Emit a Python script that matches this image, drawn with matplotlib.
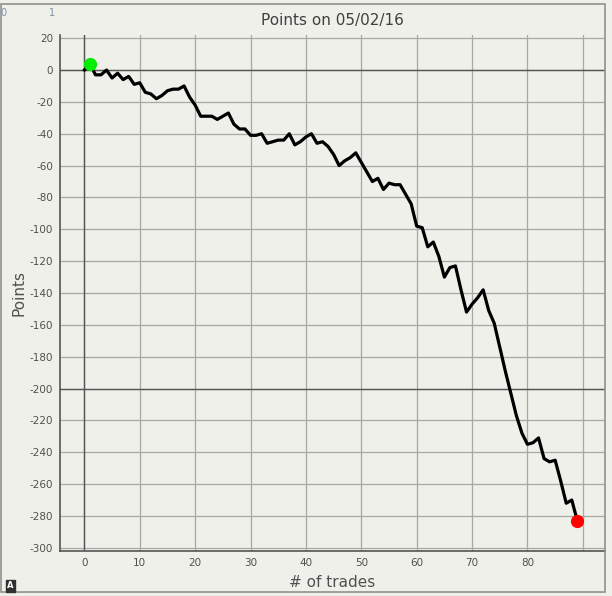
import matplotlib
matplotlib.use("Agg")
import matplotlib.pyplot as plt
from matplotlib.patches import Rectangle

plt.rcParams['axes.unicode_minus'] = False

# cumulative points per trade
trades = list(range(90))
points = [0, 4, -3, -3, 0, -5, -2, -6, -4, -9,
          -8, -14, -15, -18, -16, -13, -12, -12, -10, -17,
          -22, -29, -29, -29, -31, -29, -27, -34, -37, -37,
          -41, -41, -40, -46, -45, -44, -44, -40, -47, -45,
          -42, -40, -46, -45, -48, -53, -60, -57, -55, -52,
          -58, -64, -70, -68, -75, -71, -72, -72, -78, -84,
          -98, -99, -111, -108, -117, -130, -124, -123, -138, -152,
          -147, -143, -138, -151, -159, -174, -189, -203, -217, -228,
          -235, -234, -231, -244, -246, -245, -258, -272, -270, -283]
xticks = [0, 10, 20, 30, 40, 50, 60, 70, 80]
yticks = list(range(-300, 21, 20))

bg = '#f0f0ea'
txt = '#505050'

fig = plt.figure(figsize=(6.12, 5.96), dpi=100, facecolor=bg)
ax = fig.add_axes([60/612, 1-551/596, 545/612, 516/596])
ax.set_facecolor(bg)

ax.set_xlim(-4.4, 94)
ax.set_ylim(-302, 22)
ax.set_xticks(list(range(0, 100, 10)))
ax.set_xticklabels([str(t) for t in xticks] + [''])
ax.set_yticks(yticks)
ax.tick_params(length=0, labelsize=7.5, labelcolor=txt, pad=5)
ax.grid(True, color='#a8a8a4', linewidth=0.9)
ax.set_axisbelow(True)
for s in ['top', 'right']:
    ax.spines[s].set_visible(False)
for s in ['left', 'bottom']:
    ax.spines[s].set_color('#555555')
    ax.spines[s].set_linewidth(1.2)

# darker reference lines
ax.axhline(0, color='#555555', linewidth=1.0, zorder=1)
ax.axhline(-200, color='#555555', linewidth=1.0, zorder=1)
ax.axvline(0, color='#555555', linewidth=1.0, zorder=1)

ax.plot(trades, points, '-', color='black', linewidth=2.3, zorder=3)
ax.plot(trades[1], points[1], 'o', color='#00ee00', markersize=8.5, zorder=4)
ax.plot(trades[-1], points[-1], 'o', color='#ff0000', markersize=8.5, zorder=4)

ax.set_title("Points on 05/02/16", fontsize=11, color='#404040', pad=7)
ax.set_xlabel("# of trades", fontsize=11, color='#505050', labelpad=5)
ax.set_ylabel("Points", fontsize=11, color='#505050', labelpad=2)

# window frame and small ui bits
fig.patches.append(Rectangle((1/612, 4/596), 604/612, 588/596, transform=fig.transFigure,
                             fill=False, edgecolor='#909090', linewidth=1.2))
fig.text(3/612, 1-13/596, "0", fontsize=7, color='#8090a8', va='center', ha='center')
fig.text(52/612, 1-13/596, "1", fontsize=7, color='#8090a8', va='center', ha='center')
fig.text(10/612, 1-586/596, "A", fontsize=6, color='white', weight='bold', va='center', ha='center',
         bbox=dict(boxstyle='square,pad=0.15', facecolor='#303030', edgecolor='#303030'))

fig.savefig('out.png', dpi=100, facecolor=bg)
